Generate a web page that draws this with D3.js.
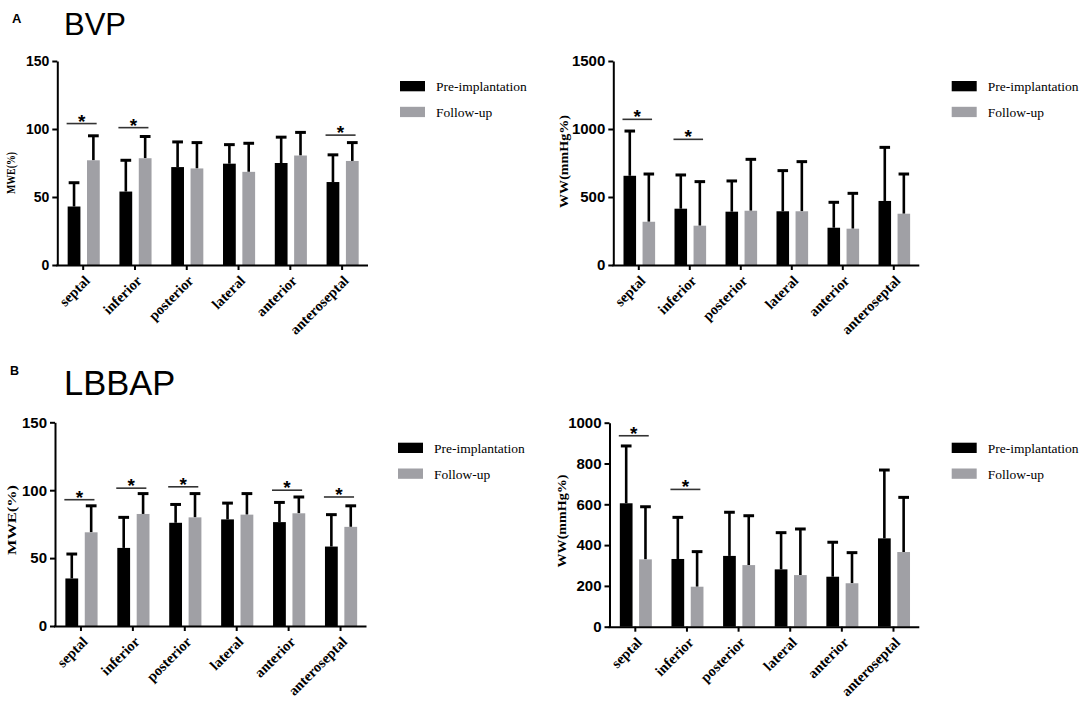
<!DOCTYPE html>
<html>
<head>
<meta charset="utf-8">
<script src="https://cdn.jsdelivr.net/npm/d3@7"></script>
<style>
  body { margin: 0; background: #fff; }
  svg { display: block; }
  .axis path, .axis line { stroke: #000; stroke-width: 2; }
</style>
</head>
<body>
<div id="chart"></div>
<script>
const categories = ['septal', 'inferior', 'posterior', 'lateral', 'anterior', 'anteroseptal'];
const seriesNames = ['Pre-implantation', 'Follow-up'];

// A: BVP, myocardial work efficiency
const bvpMwePre = [43, 54, 72, 74.5, 75, 61];
const bvpMwePreSd = [17.5, 23, 18.5, 14, 19, 20];
const bvpMwePost = [77, 78.5, 71, 68.5, 80.5, 76.5];
const bvpMwePostSd = [18, 16, 19, 21, 17, 13.5];
const bvpMweStars = [['septal', 104], ['inferior', 101], ['anteroseptal', 95.5]];

// A: BVP, wasted work
const bvpWwPre = [656, 414, 392, 395, 274, 471];
const bvpWwPreSd = [329, 248, 226, 299, 187, 394];
const bvpWwPost = [318, 289, 399, 395, 267, 377];
const bvpWwPostSd = [351, 324, 378, 365, 260, 292];
const bvpWwStars = [['septal', 1071], ['inferior', 924]];

// B: LBBAP, myocardial work efficiency
const lbbapMwePre = [35, 57.5, 76, 78.5, 76.5, 58.5];
const lbbapMwePreSd = [18, 22.5, 13.5, 12, 14.5, 23.5];
const lbbapMwePost = [69, 82.5, 80, 82, 83, 73];
const lbbapMwePostSd = [19.5, 15, 17.5, 15.5, 12, 15.5];
const lbbapMweStars = [['septal', 93], ['inferior', 101.5], ['posterior', 102.5], ['anterior', 100], ['anteroseptal', 95]];

// B: LBBAP, wasted work
const lbbapWwPre = [605, 332, 347, 281, 245, 433];
const lbbapWwPreSd = [281, 204, 214, 180, 169, 335];
const lbbapWwPost = [330, 196, 302, 253, 213, 366];
const lbbapWwPostSd = [258, 172, 242, 226, 150, 268];
const lbbapWwStars = [['septal', 936], ['inferior', 673]];

const mweTicks = [0, 50, 100, 150];
const bvpWwTicks = [0, 500, 1000, 1500];
const lbbapWwTicks = [0, 200, 400, 600, 800, 1000];

const colors = ['#000000', '#a0a0a5'];
const SANS = '"Liberation Sans", Arial, sans-serif';
const SERIF = '"Liberation Serif", "Times New Roman", serif';

const svg = d3.select('#chart')
  .append('svg')
  .attr('width', 1084)
  .attr('height', 704);

function drawPanel(opts) {
  const {
    left, right, bottom, top, max, ticks, tickFont,
    pre, preSd, post, postSd, stars,
    title, titleX, titleY, titleLen, titleSize,
    legendX, legendY,
  } = opts;

  const g = svg.append('g');

  const x = d3.scaleBand()
    .domain(categories)
    .range([left, right])
    .padding(0);
  const bw = x.bandwidth();

  const xSub = d3.scaleBand()
    .domain([0, 1])
    .range([bw * 0.2, bw * 0.82])
    .paddingInner(0.34)
    .paddingOuter(0);

  const y = d3.scaleLinear()
    .domain([0, max])
    .range([bottom, top]);

  const rows = categories.map((c, i) => [
    { c, s: 0, v: pre[i], sd: preSd[i] },
    { c, s: 1, v: post[i], sd: postSd[i] },
  ]).flat();

  // error bars (upper only)
  const err = g.append('g');
  err.selectAll('line.stem')
    .data(rows)
    .join('line')
    .attr('class', 'stem')
    .attr('x1', d => x(d.c) + xSub(d.s) + xSub.bandwidth() / 2)
    .attr('x2', d => x(d.c) + xSub(d.s) + xSub.bandwidth() / 2)
    .attr('y1', d => y(d.v))
    .attr('y2', d => y(d.v + d.sd))
    .attr('stroke', '#000')
    .attr('stroke-width', 2.6);
  err.selectAll('line.cap')
    .data(rows)
    .join('line')
    .attr('class', 'cap')
    .attr('x1', d => x(d.c) + xSub(d.s) + xSub.bandwidth() * 0.08)
    .attr('x2', d => x(d.c) + xSub(d.s) + xSub.bandwidth() * 0.92)
    .attr('y1', d => y(d.v + d.sd))
    .attr('y2', d => y(d.v + d.sd))
    .attr('stroke', '#000')
    .attr('stroke-width', 3);

  g.append('g')
    .selectAll('rect')
    .data(rows)
    .join('rect')
    .attr('x', d => x(d.c) + xSub(d.s))
    .attr('y', d => y(d.v))
    .attr('width', xSub.bandwidth())
    .attr('height', d => y(0) - y(d.v))
    .attr('fill', d => colors[d.s]);

  // significance markers
  const sig = g.append('g');
  sig.selectAll('line')
    .data(stars)
    .join('line')
    .attr('x1', d => x(d[0]) + bw * 0.18)
    .attr('x2', d => x(d[0]) + bw * 0.76)
    .attr('y1', d => y(d[1]))
    .attr('y2', d => y(d[1]))
    .attr('stroke', '#333')
    .attr('stroke-width', 1.6);
  sig.selectAll('text')
    .data(stars)
    .join('text')
    .attr('x', d => x(d[0]) + bw * 0.47)
    .attr('y', d => y(d[1]) + 4)
    .attr('text-anchor', 'middle')
    .attr('font-family', SANS)
    .attr('font-weight', 'bold')
    .attr('font-size', 19)
    .text('*');

  // axes
  g.append('g')
    .attr('class', 'axis axis--x')
    .attr('transform', `translate(0, ${bottom})`)
    .call(d3.axisBottom(x).tickSize(5).tickSizeOuter(0))
    .call(a => a.select('.domain').attr('d', `M${left - 1},0.5H${right}`))
    .selectAll('text')
    .attr('font-family', SERIF)
    .attr('font-weight', 'bold')
    .attr('font-size', 14.5)
    .attr('fill', '#000')
    .attr('text-anchor', 'end')
    .attr('transform', 'translate(4, 13) rotate(-45)')
    .attr('dy', '0.35em')
    .attr('y', 0)
    .attr('x', 0);

  g.append('g')
    .attr('class', 'axis axis--y')
    .attr('transform', `translate(${left}, 0)`)
    .call(d3.axisLeft(y)
      .tickValues(ticks)
      .tickFormat(d3.format('d'))
      .tickSize(5)
      .tickSizeOuter(0)
      .tickPadding(3))
    .selectAll('text')
    .attr('font-family', SANS)
    .attr('font-weight', 'bold')
    .attr('fill', '#000')
    .attr('font-size', tickFont);

  g.append('text')
    .attr('transform', `translate(${titleX}, ${titleY}) rotate(-90)`)
    .attr('text-anchor', 'middle')
    .attr('dy', '0.35em')
    .attr('font-family', SERIF)
    .attr('font-weight', 'bold')
    .attr('font-size', titleSize)
    .attr('textLength', titleLen)
    .attr('lengthAdjust', 'spacingAndGlyphs')
    .text(title);

  // legend
  const legend = g.append('g')
    .attr('transform', `translate(${legendX}, ${legendY})`);
  const item = legend.selectAll('g')
    .data(seriesNames)
    .join('g')
    .attr('transform', (d, i) => `translate(0, ${i * 25.8})`);
  item.append('rect')
    .attr('width', 25)
    .attr('height', 10.3)
    .attr('fill', (d, i) => colors[i]);
  item.append('text')
    .attr('x', 36)
    .attr('y', 10)
    .attr('font-family', SERIF)
    .attr('font-size', 13.5)
    .attr('fill', '#000')
    .text(d => d);
}

drawPanel({
  left: 57.3, right: 368, bottom: 265, top: 61, max: 150, ticks: mweTicks, tickFont: 14,
  pre: bvpMwePre, preSd: bvpMwePreSd, post: bvpMwePost, postSd: bvpMwePostSd, stars: bvpMweStars,
  title: 'MWE(%)', titleX: 10, titleY: 173, titleLen: 42, titleSize: 13,
  legendX: 400, legendY: 81,
});

drawPanel({
  left: 613.3, right: 919.3, bottom: 265, top: 61, max: 1500, ticks: bvpWwTicks, tickFont: 15,
  pre: bvpWwPre, preSd: bvpWwPreSd, post: bvpWwPost, postSd: bvpWwPostSd, stars: bvpWwStars,
  title: 'WW(mmHg%)', titleX: 563.3, titleY: 161.5, titleLen: 93, titleSize: 13.5,
  legendX: 951.7, legendY: 81,
});

drawPanel({
  left: 55, right: 366.5, bottom: 626, top: 422.3, max: 150, ticks: mweTicks, tickFont: 15,
  pre: lbbapMwePre, preSd: lbbapMwePreSd, post: lbbapMwePost, postSd: lbbapMwePostSd, stars: lbbapMweStars,
  title: 'MWE(%)', titleX: 11, titleY: 520, titleLen: 70, titleSize: 13.5,
  legendX: 398, legendY: 442.7,
});

drawPanel({
  left: 609.5, right: 919.3, bottom: 626.7, top: 422.7, max: 1000, ticks: lbbapWwTicks, tickFont: 15,
  pre: lbbapWwPre, preSd: lbbapWwPreSd, post: lbbapWwPost, postSd: lbbapWwPostSd, stars: lbbapWwStars,
  title: 'WW(mmHg%)', titleX: 561.7, titleY: 521, titleLen: 93, titleSize: 13.5,
  legendX: 951.7, legendY: 442.7,
});

// panel labels
const labels = [
  { t: 'A', x: 12, y: 23, size: 13, weight: 'bold' },
  { t: 'BVP', x: 64, y: 35, size: 31, weight: 'normal' },
  { t: 'B', x: 10, y: 375, size: 12.5, weight: 'bold' },
  { t: 'LBBAP', x: 64, y: 395, size: 34.5, weight: 'normal' },
];
svg.append('g')
  .selectAll('text')
  .data(labels)
  .join('text')
  .attr('x', d => d.x)
  .attr('y', d => d.y)
  .attr('font-family', SANS)
  .attr('font-size', d => d.size)
  .attr('font-weight', d => d.weight)
  .text(d => d.t);
</script>
</body>
</html>
